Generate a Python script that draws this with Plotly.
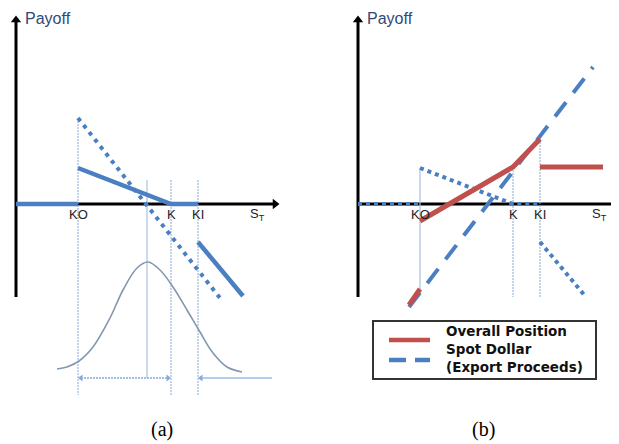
import plotly.graph_objects as go

# ---------------- data ----------------
# strike levels on the S_T axis (same scale in both panels)
KO, K, KI = 62, 155, 182
MODE = 131                      # peak of the distribution of S_T

# Panel (a)
A_BARRIER_X = [0, KO, None, KO, K, KI, None, KI, 227]
A_BARRIER_Y = [0, 0, None, 36, 0, 0, None, -38, -92]
A_FWD_X = [KO, 204]
A_FWD_Y = [86, -94]
A_DENS_X = [41, 51, 63, 77, 94, 107, 121, 132, 144, 157, 171, 184, 197, 211, 226]
A_DENS_Y = [-165, -163, -157, -143, -114, -86, -64, -58, -66, -83, -106, -128, -149, -163, -168]
A_RANGE_Y = -174                # level of the range arrows under the density
A_RANGE_RIGHT_END = 256
A_GUIDE_TOP = 24
A_GUIDE_BOTTOM = -191

# Panel (b)
B_BARRIER_X = [0, KO, None, KO, K, KI, None, KI, 228]
B_BARRIER_Y = [0, 0, None, 36, 0, 0, None, -38, -93]
B_SPOT_X = [51, 235]
B_SPOT_Y = [-103, 137]
B_OVERALL_X = [51, KO, None, KO, K, KI, None, KI, 245]
B_OVERALL_Y = [-101, -85, None, -17, 37, 65, None, 37, 37]
B_GUIDE_BOTTOM = -93

# axes extents
AXIS_Y_MIN, AXIS_Y_MAX = -93, 182
AXIS_X_MAX_A, AXIS_X_MAX_B = 257, 254

TICK_LABELS = ["KO", "K", "KI", "S<sub>T</sub>"]
TICK_POS = [KO, K, KI, 241]
LEGEND_TEXT = ["Overall Position", "Spot Dollar", "(Export Proceeds)"]

# ---------------- styles ----------------
BLUE = "#4a7fc1"
LIGHT = "#86a9d9"
RED = "#c0504d"
DENS = "#8497b0"

fig = go.Figure()


def add(x, y, xa, ya, color, width, dash="solid", shape="linear"):
    fig.add_trace(go.Scatter(x=x, y=y, xaxis=xa, yaxis=ya, mode="lines",
                             line=dict(color=color, width=width, dash=dash, shape=shape),
                             hoverinfo="skip", showlegend=False))


def marks(x, y, xa, ya, symbols, size, color):
    fig.add_trace(go.Scatter(x=x, y=y, xaxis=xa, yaxis=ya, mode="markers",
                             marker=dict(symbol=symbols, size=size, color=color,
                                         line=dict(width=0)),
                             hoverinfo="skip", showlegend=False))


# ---- panel (a) ----
xa, ya = "x", "y"
add([0, AXIS_X_MAX_A], [0, 0], xa, ya, "black", 3)
add([0, 0], [AXIS_Y_MIN, AXIS_Y_MAX], xa, ya, "black", 3)
marks([AXIS_X_MAX_A + 2, 0], [0, AXIS_Y_MAX + 2], xa, ya, ["triangle-right", "triangle-up"], 9, "black")
# guides
add([KO, KO], [A_FWD_Y[0], A_GUIDE_BOTTOM], xa, ya, LIGHT, 1, "2px,1px")
add([MODE, MODE], [A_GUIDE_TOP, A_RANGE_Y], xa, ya, "#a9c0e2", 1.2)
add([K, K], [A_GUIDE_TOP, A_GUIDE_BOTTOM], xa, ya, LIGHT, 1, "2px,1px")
add([KI, KI], [A_GUIDE_TOP, A_GUIDE_BOTTOM], xa, ya, LIGHT, 1, "2px,1px")
# density
add(A_DENS_X, A_DENS_Y, xa, ya, DENS, 1.6, shape="spline")
# range arrows
add([KO + 3, K - 3], [A_RANGE_Y, A_RANGE_Y], xa, ya, LIGHT, 1.5, "2px,1px")
add([KI + 3, A_RANGE_RIGHT_END], [A_RANGE_Y, A_RANGE_Y], xa, ya, "#9fbbe3", 1.5)
marks([KO + 3, K - 3, KI + 3], [A_RANGE_Y] * 3, xa, ya,
      ["triangle-left", "triangle-right", "triangle-left"], 6, LIGHT)
# payoffs
add(A_FWD_X, A_FWD_Y, xa, ya, BLUE, 4, "4px,5px")
add(A_BARRIER_X, A_BARRIER_Y, xa, ya, BLUE, 4.5)

# ---- panel (b) ----
xa, ya = "x2", "y2"
add([0, AXIS_X_MAX_B], [0, 0], xa, ya, "black", 3)
add([0, 0], [AXIS_Y_MIN, AXIS_Y_MAX], xa, ya, "black", 3)
marks([AXIS_X_MAX_B + 2, 0], [0, AXIS_Y_MAX + 2], xa, ya, ["triangle-right", "triangle-up"], 9, "black")
add([KO, KO], [B_BARRIER_Y[3], B_OVERALL_Y[1]], xa, ya, "#a9c0e2", 1.2)
add([K, K], [B_OVERALL_Y[4], B_GUIDE_BOTTOM], xa, ya, LIGHT, 1, "2px,1px")
add([KI, KI], [B_OVERALL_Y[5], B_GUIDE_BOTTOM], xa, ya, LIGHT, 1, "2px,1px")
add(B_BARRIER_X, B_BARRIER_Y, xa, ya, BLUE, 4, "4px,4px")
add(B_SPOT_X, B_SPOT_Y, xa, ya, BLUE, 4, "18px,12px")
add(B_OVERALL_X, B_OVERALL_Y, xa, ya, RED, 5)

# ---------------- text ----------------
ann = []
lab_font = dict(family="Liberation Sans, Arial", size=13, color="#222")
for xr, yr in (("x", "y"), ("x2", "y2")):
    for t, p in zip(TICK_LABELS, TICK_POS):
        ann.append(dict(x=p, y=-10, xref=xr, yref=yr, text=t, showarrow=False,
                        font=lab_font, xanchor="center", yanchor="middle"))
    ann.append(dict(x=7, y=186, xref=xr, yref=yr, text="Payoff", showarrow=False,
                    font=dict(family="Liberation Sans, Arial", size=16, color="#2e4a78"),
                    xanchor="left", yanchor="middle"))
ann.append(dict(x=146, y=-225, xref="x", yref="y", text="(a)", showarrow=False,
                font=dict(family="Liberation Serif, Times New Roman", size=20, color="black")))
ann.append(dict(x=125, y=-225, xref="x2", yref="y2", text="(b)", showarrow=False,
                font=dict(family="Liberation Serif, Times New Roman", size=20, color="black")))

# legend of panel (b)
leg_font = dict(family="DejaVu Sans", size=13.5, color="#111", weight="bold")
for t, yy in zip(LEGEND_TEXT, [-127, -145, -163]):
    ann.append(dict(x=86, y=yy, xref="x2", yref="y2", text=t, showarrow=False,
                    font=leg_font, xanchor="left", yanchor="middle"))

shapes = [
    dict(type="rect", xref="x2", yref="y2", x0=15, x1=238, y0=-117, y1=-175,
         line=dict(color="#333", width=2), fillcolor="white", layer="below"),
    dict(type="line", xref="x2", yref="y2", x0=31, x1=72, y0=-136, y1=-136,
         line=dict(color=RED, width=4.5)),
    dict(type="line", xref="x2", yref="y2", x0=31, x1=72, y0=-156, y1=-156,
         line=dict(color=BLUE, width=4.5, dash="17px,9px")),
]

# the page adds an 8 px body margin; the figure fills the rest of the 619x444 window
W, H = 611, 436
fig.update_layout(
    width=W, height=H, margin=dict(l=0, r=0, t=0, b=0),
    paper_bgcolor="white", plot_bgcolor="white",
    xaxis=dict(domain=[0, 300 / W], range=[-8, 292], visible=False, fixedrange=True),
    yaxis=dict(domain=[0, 1], range=[-240, 196], visible=False, fixedrange=True),
    xaxis2=dict(domain=[302 / W, 1], range=[-48, 261], visible=False, fixedrange=True),
    yaxis2=dict(domain=[0, 1], range=[-240, 196], visible=False, anchor="x2", fixedrange=True),
    annotations=ann, shapes=shapes, showlegend=False,
)

fig.write_html("out.html")
